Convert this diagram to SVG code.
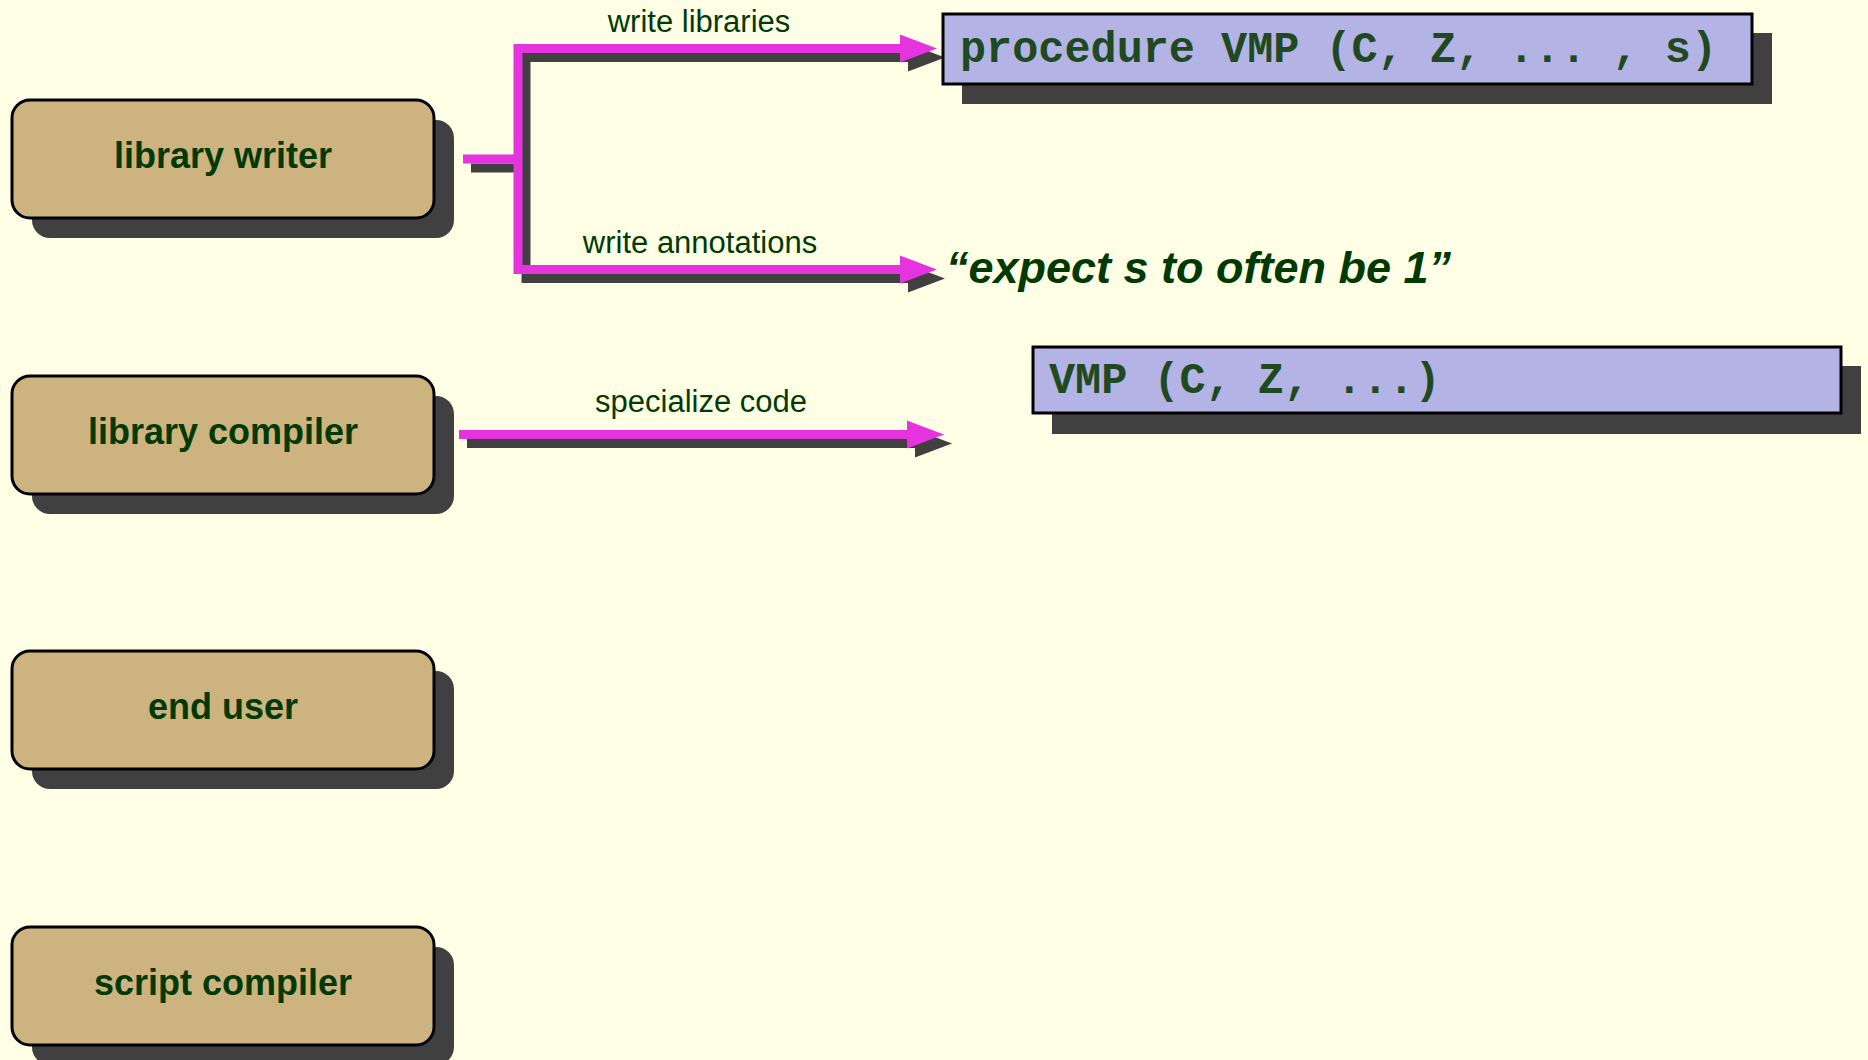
<svg xmlns="http://www.w3.org/2000/svg" width="1868" height="1060" viewBox="0 0 1868 1060">
<defs>
<style>
.bg{fill:#FFFFE5}
.sh{fill:#404040}
.box{fill:#CDB380;stroke:#000;stroke-width:3}
.code{fill:#B3B3E5;stroke:#000;stroke-width:3}
.nt{font-family:"Liberation Sans",Arial,sans-serif;font-weight:bold;font-size:36px;fill:#003A00;text-anchor:middle}
.lbl{font-family:"Liberation Sans",Arial,sans-serif;font-size:31px;fill:#003A00;text-anchor:middle}
.mono{font-family:"Liberation Mono","Courier New",monospace;font-weight:bold;font-size:43.5px;fill:#1F4A1F}
.quote{font-family:"Liberation Sans",Arial,sans-serif;font-weight:bold;font-style:italic;font-size:45px;fill:#003A00}
.ln{fill:none;stroke-width:9;stroke-linejoin:miter}
.mg{stroke:#E533E0}
.ms{stroke:#404040}
.hm{fill:#E533E0}
.hs{fill:#404040}
</style>
</defs>
<rect class="bg" x="0" y="0" width="1868" height="1060"/>

<g id="connectors">
  <g transform="translate(8,9)">
    <path class="ln ms" d="M463,159 H518"/>
    <path class="ln ms" d="M900,48.5 H518 V269.5 H900"/>
    <polygon class="hs" points="900,34.5 937,48.5 900,62.5"/>
    <polygon class="hs" points="900,255.5 937,269.5 900,283.5"/>
    <path class="ln ms" d="M459,434.5 H908"/>
    <polygon class="hs" points="907,420.5 944,434.5 907,448.5"/>
  </g>
  <path class="ln mg" d="M463,159 H518"/>
  <path class="ln mg" d="M900,48.5 H518 V269.5 H900"/>
  <polygon class="hm" points="900,34.5 937,48.5 900,62.5"/>
  <polygon class="hm" points="900,255.5 937,269.5 900,283.5"/>
  <path class="ln mg" d="M459,434.5 H908"/>
  <polygon class="hm" points="907,420.5 944,434.5 907,448.5"/>
  <text class="lbl" x="699" y="32">write libraries</text>
  <text class="lbl" x="700" y="253">write annotations</text>
  <text class="lbl" x="701" y="412">specialize code</text>
</g>

<g id="node-library-writer">
  <rect class="sh" x="32" y="120" width="422" height="118" rx="18"/>
  <rect class="box" x="12" y="100" width="422" height="118" rx="18"/>
  <text class="nt" x="223" y="168">library writer</text>
</g>
<g id="node-library-compiler">
  <rect class="sh" x="32" y="396" width="422" height="118" rx="18"/>
  <rect class="box" x="12" y="376" width="422" height="118" rx="18"/>
  <text class="nt" x="223" y="444">library compiler</text>
</g>
<g id="node-end-user">
  <rect class="sh" x="32" y="671" width="422" height="118" rx="18"/>
  <rect class="box" x="12" y="651" width="422" height="118" rx="18"/>
  <text class="nt" x="223" y="719">end user</text>
</g>
<g id="node-script-compiler">
  <rect class="sh" x="32" y="947" width="422" height="118" rx="18"/>
  <rect class="box" x="12" y="927" width="422" height="118" rx="18"/>
  <text class="nt" x="223" y="995">script compiler</text>
</g>

<g id="node-procedure">
  <rect class="sh" x="962" y="33" width="810" height="71"/>
  <rect class="code" x="943" y="14" width="809" height="70"/>
  <text class="mono" x="960" y="62">procedure VMP (C, Z, ... , s)</text>
</g>
<g id="node-annotation">
  <text class="quote" x="946" y="283">“expect s to often be 1”</text>
</g>
<g id="node-vmp">
  <rect class="sh" x="1052" y="366" width="809" height="68"/>
  <rect class="code" x="1033" y="347" width="808" height="66"/>
  <text class="mono" x="1049" y="393">VMP (C, Z, ...)</text>
</g>
</svg>
